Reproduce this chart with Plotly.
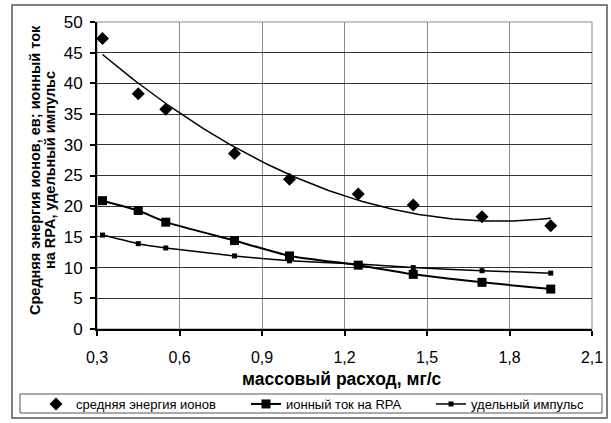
import numpy as np
import plotly.graph_objects as go

# data
flow = [0.32, 0.45, 0.55, 0.80, 1.00, 1.25, 1.45, 1.70, 1.95]
energy = [47.3, 38.3, 35.8, 28.6, 24.4, 22.0, 20.2, 18.3, 16.8]
current = [20.9, 19.3, 17.4, 14.4, 11.9, 10.4, 8.9, 7.6, 6.5]
impulse = [15.3, 13.9, 13.2, 11.9, 11.1, 10.6, 10.0, 9.5, 9.1]

x_ticks = [0.3, 0.6, 0.9, 1.2, 1.5, 1.8, 2.1]
y_ticks = [0, 5, 10, 15, 20, 25, 30, 35, 40, 45, 50]

names = ["средняя энергия ионов", "ионный ток на RPA", "удельный импульс"]
x_title = "массовый расход, мг/с"
y_title_lines = ["Средняя энергия ионов, ев; ионный ток", "на RPA, удельный импульс"]

# polynomial trendline (order 2) of the energy points, as in the original chart
coef = np.polyfit(flow, energy, 2)
xs = np.linspace(min(flow), max(flow), 120)
trend = np.polyval(coef, xs)

W, H = 611, 423
ml, mr, mt, mb = 97, 19, 22, 94
pw, ph = W - ml - mr, H - mt - mb

def px2x(p):
    return (p - ml) / pw

def px2y(p):
    return (H - mb - p) / ph

FONT = "Liberation Sans, Arial, sans-serif"

fig = go.Figure()
fig.add_trace(go.Scatter(x=xs, y=trend, mode="lines", line=dict(color="black", width=1.5),
                         showlegend=False, hoverinfo="skip"))
fig.add_trace(go.Scatter(x=flow, y=energy, mode="markers", name=names[0], legend="legend",
                         marker=dict(symbol="diamond", size=10, color="black")))
fig.add_trace(go.Scatter(x=flow, y=current, mode="lines+markers", name=names[1], legend="legend2",
                         line=dict(color="black", width=2, shape="spline", smoothing=0.4),
                         marker=dict(symbol="square", size=9, color="black")))
fig.add_trace(go.Scatter(x=flow, y=impulse, mode="lines+markers", name=names[2], legend="legend3",
                         line=dict(color="black", width=1.5, shape="spline", smoothing=0.4),
                         marker=dict(symbol="square", size=5, color="black")))

def leg(xpx):
    return dict(orientation="h", xref="container", yref="container",
                x=xpx / W, y=1 - 404 / H, xanchor="left", yanchor="middle",
                bgcolor="rgba(0,0,0,0)", borderwidth=0, itemwidth=30,
                font=dict(size=13, family=FONT, color="black"))

fig.update_layout(
    width=W, height=H,
    margin=dict(l=ml, r=mr, t=mt, b=mb, autoexpand=False),
    paper_bgcolor="white", plot_bgcolor="white",
    separators=", ",
    font=dict(family=FONT, color="black"),
    xaxis=dict(range=[0.3, 2.1], tickvals=x_ticks, tickformat=".1f", automargin=False,
               showgrid=True, gridcolor="#8a8a8a", gridwidth=1,
               showline=True, linecolor="black", linewidth=2,
               ticks="outside", ticklen=5, tickwidth=2, tickcolor="black",
               tickfont=dict(size=16), ticklabelstandoff=8, zeroline=False),
    yaxis=dict(range=[0, 50], tickvals=y_ticks, automargin=False,
               showgrid=True, gridcolor="#333333", gridwidth=1,
               showline=True, linecolor="black", linewidth=2,
               ticks="outside", ticklen=5, tickwidth=2, tickcolor="black",
               tickfont=dict(size=17), ticklabelstandoff=4, zeroline=False),
    legend=leg(36), legend2=leg(246), legend3=leg(431),
    showlegend=True,
)

fig.add_annotation(text="<b>" + x_title + "</b>", x=px2x(342), y=px2y(379),
                   xref="paper", yref="paper", showarrow=False,
                   font=dict(size=17.5, family=FONT, color="black"),
                   xanchor="center", yanchor="middle")
for line, xp in zip(y_title_lines, [35, 50]):
    fig.add_annotation(text="<b>" + line + "</b>",
                       x=px2x(xp), y=px2y(170), xref="paper", yref="paper", showarrow=False,
                       textangle=-90, font=dict(size=14.5, family=FONT, color="black"),
                       xanchor="center", yanchor="middle")

# plot area border (gray), outer chart border, legend box
fig.add_shape(type="rect", xref="paper", yref="paper", x0=0, x1=1, y0=0, y1=1,
              line=dict(color="#8a8a8a", width=1), layer="below")
fig.add_shape(type="rect", xref="paper", yref="paper",
              x0=px2x(12), x1=px2x(607), y0=px2y(418), y1=px2y(5),
              line=dict(color="#555555", width=1.5))
fig.add_shape(type="rect", xref="paper", yref="paper",
              x0=px2x(20), x1=px2x(602), y0=px2y(413), y1=px2y(394),
              line=dict(color="#555555", width=1))

fig.write_html("out.html", config={"displayModeBar": False},
               post_script="document.body.style.margin='0px';document.body.style.overflow='hidden';")
